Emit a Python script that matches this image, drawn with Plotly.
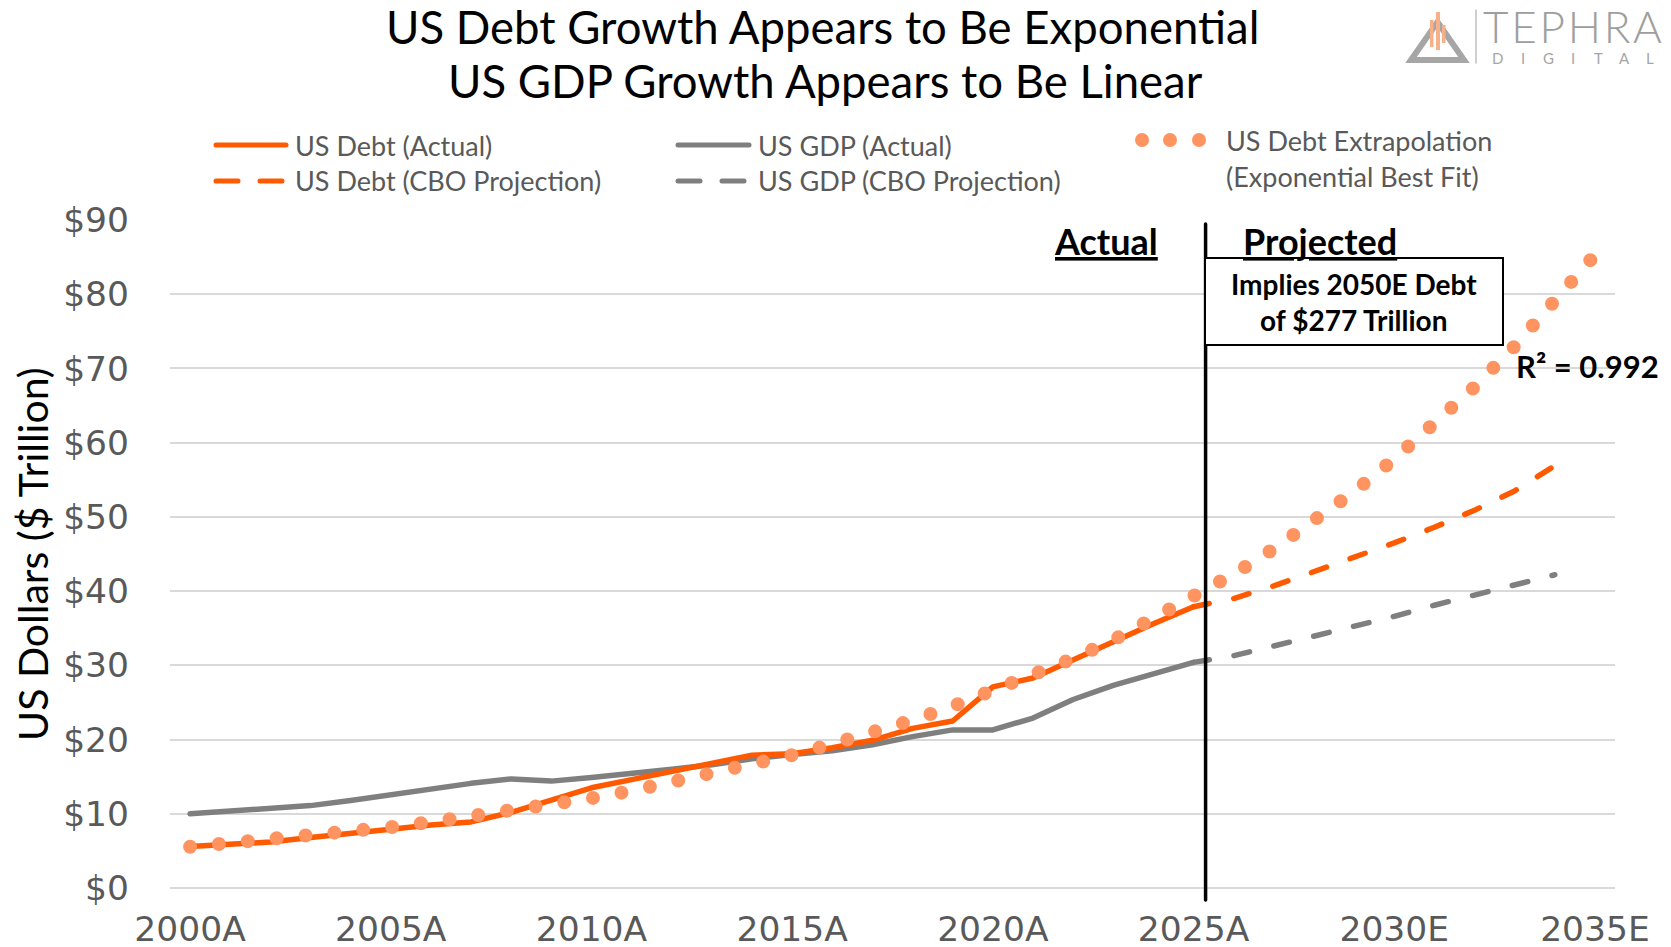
import plotly.graph_objects as go

# ---------------- data ----------------
years_actual = list(range(2000, 2026))
debt_actual = [5.6, 5.85, 6.2, 6.8, 7.3, 7.9, 8.5, 8.9, 10.2, 11.9, 13.5, 14.6, 15.7, 16.7,
               17.9, 18.1, 18.9, 19.9, 21.5, 22.5, 27.1, 28.3, 30.8, 33.2, 35.6, 37.9]
gdp_actual = [10.0, 10.4, 10.7, 11.1, 11.8, 12.6, 13.4, 14.1, 14.7, 14.4, 14.9, 15.4, 16.0,
              16.6, 17.4, 18.0, 18.5, 19.3, 20.4, 21.3, 21.3, 22.9, 25.4, 27.3, 28.9, 30.4]

years_proj = list(range(2025, 2035))
debt_cbo = [37.9, 39.0, 40.7, 42.6, 44.5, 46.5, 48.6, 50.9, 53.5, 56.9]
gdp_cbo = [30.4, 31.3, 32.6, 33.9, 35.3, 36.6, 38.1, 39.5, 40.9, 42.2]

years_fit = list(range(2000, 2036))
debt_fit = [5.55, 6.0, 6.5, 7.0, 7.6, 8.2, 8.9, 9.6, 10.4, 11.2, 12.1, 13.1, 14.2, 15.3,
            16.6, 17.9, 19.4, 20.9, 22.6, 24.5, 26.5, 28.6, 30.9, 33.4, 36.2, 39.1, 42.3,
            45.7, 49.4, 53.4, 57.8, 62.5, 67.5, 73.0, 78.9, 85.3]

tick_years = [2000, 2005, 2010, 2015, 2020, 2025, 2030, 2035]
tick_labels = ["2000A", "2005A", "2010A", "2015A", "2020A", "2025A", "2030E", "2035E"]
divider_year = 2025.3

# ---------------- styles ----------------
W, H = 1671, 947
ML, MR, MT, MB = 170, 56, 220, 59
PW, PH = W - ML - MR, H - MT - MB
X_RANGE = [1999.5, 2035.5]

ORANGE = "#FF5A00"
DOT = "#FF9460"
GRAY = "#7F7F7F"
TXT = "#595959"
TEXT_FONT = "Lato"
TICK_FONT = "DejaVu Sans"


def px(x):
    return (x - ML) / PW


def py(y):
    return (H - MB - y) / PH


fig = go.Figure()
fig.add_trace(go.Scatter(x=years_actual, y=gdp_actual, mode="lines",
                         line=dict(color=GRAY, width=5.5), name="US GDP (Actual)"))
fig.add_trace(go.Scatter(x=years_proj, y=gdp_cbo, mode="lines",
                         line=dict(color=GRAY, width=5.5, dash="16px,25px"),
                         name="US GDP (CBO Projection)"))
fig.add_trace(go.Scatter(x=years_actual, y=debt_actual, mode="lines",
                         line=dict(color=ORANGE, width=5.5), name="US Debt (Actual)"))
fig.add_trace(go.Scatter(x=years_proj, y=debt_cbo, mode="lines",
                         line=dict(color=ORANGE, width=5.5, dash="16px,25px"),
                         name="US Debt (CBO Projection)"))
fig.add_trace(go.Scatter(x=years_fit, y=debt_fit, mode="lines",
                         line=dict(color=DOT, width=14, dash="0px,29px"),
                         name="US Debt Extrapolation (Exponential Best Fit)"))

shapes = []
annotations = []

# divider line (paper coords so it can run slightly below the plot area)
div_paper_x = (divider_year - X_RANGE[0]) / (X_RANGE[1] - X_RANGE[0])
shapes.append(dict(type="line", xref="paper", yref="paper", x0=div_paper_x, x1=div_paper_x,
                   y0=py(900), y1=py(224), line=dict(color="black", width=3.5), layer="above"))
# implied debt box
shapes.append(dict(type="rect", xref="paper", yref="paper", x0=px(1205), x1=px(1503),
                   y0=py(345), y1=py(258), line=dict(color="black", width=2),
                   fillcolor="white", layer="above"))
annotations.append(dict(xref="paper", yref="paper", x=px(1354), y=py(302),
                        text="<b>Implies 2050E Debt<br>of $277 Trillion</b>", showarrow=False,
                        font=dict(family=TEXT_FONT, size=28, color="black"),
                        align="center", xanchor="center", yanchor="middle"))
annotations.append(dict(xref="paper", yref="paper", x=px(1514), y=py(366),
                        text="<b>R² = 0.992</b>", showarrow=False,
                        font=dict(family=TEXT_FONT, size=31, color="black"),
                        xanchor="left", yanchor="middle"))
annotations.append(dict(xref="paper", yref="paper", x=px(1106), y=py(241),
                        text="<b><u>Actual</u></b>", showarrow=False,
                        font=dict(family=TEXT_FONT, size=36, color="black"),
                        xanchor="center", yanchor="middle"))
annotations.append(dict(xref="paper", yref="paper", x=px(1320), y=py(241),
                        text="<b><u>Projected</u></b>", showarrow=False,
                        font=dict(family=TEXT_FONT, size=36, color="black"),
                        xanchor="center", yanchor="middle"))

# titles
annotations.append(dict(xref="paper", yref="paper", x=px(822), y=py(26),
                        text="US Debt Growth Appears to Be Exponential", showarrow=False,
                        font=dict(family=TEXT_FONT, size=45.5, color="black"),
                        xanchor="center", yanchor="middle"))
annotations.append(dict(xref="paper", yref="paper", x=px(825), y=py(80),
                        text="US GDP Growth Appears to Be Linear", showarrow=False,
                        font=dict(family=TEXT_FONT, size=45.5, color="black"),
                        xanchor="center", yanchor="middle"))
# y title
annotations.append(dict(xref="paper", yref="paper", x=px(32), y=py(554),
                        text="US Dollars ($ Trillion)", showarrow=False, textangle=-90,
                        font=dict(family=TEXT_FONT, size=41, color="black"),
                        xanchor="center", yanchor="middle"))

# manual legend
LEG = dict(family=TEXT_FONT, size=27, color=TXT)
for (x0, x1, tx, y, color, dash, label) in [
    (216, 286, 293, 145, ORANGE, "solid", "US Debt (Actual)"),
    (216, 282, 293, 181, ORANGE, "22px,22px", "US Debt (CBO Projection)"),
    (678, 749, 756, 145, GRAY, "solid", "US GDP (Actual)"),
    (678, 745, 756, 181, GRAY, "22px,22px", "US GDP (CBO Projection)"),
]:
    shapes.append(dict(type="line", xref="paper", yref="paper", x0=px(x0), x1=px(x1),
                       y0=py(y), y1=py(y), line=dict(color=color, width=5, dash=dash)))
    annotations.append(dict(xref="paper", yref="paper", x=px(tx), y=py(y), text=label,
                            showarrow=False, font=LEG, xanchor="left", yanchor="middle"))
for cx in (1142, 1170, 1199):
    shapes.append(dict(type="circle", xref="paper", yref="paper", x0=px(cx - 7), x1=px(cx + 7),
                       y0=py(147), y1=py(133), fillcolor=DOT, line=dict(width=0)))
annotations.append(dict(xref="paper", yref="paper", x=px(1224), y=py(141),
                        text="US Debt Extrapolation", showarrow=False, font=LEG,
                        xanchor="left", yanchor="middle"))
annotations.append(dict(xref="paper", yref="paper", x=px(1224), y=py(176),
                        text="(Exponential Best Fit)", showarrow=False, font=LEG,
                        xanchor="left", yanchor="middle"))

# logo
LOGO_GRAY = "#A6A6A6"
shapes.append(dict(type="path", xref="paper", yref="paper",
                   path=f"M {px(1411)},{py(60)} L {px(1464)},{py(60)} L {px(1437.5)},{py(22)} Z",
                   line=dict(color=LOGO_GRAY, width=6), fillcolor="rgba(0,0,0,0)"))
for (bx0, bx1, by0, by1) in [(1430, 1433.5, 20, 47), (1436, 1440, 12, 50), (1442, 1445.5, 25, 43)]:
    shapes.append(dict(type="rect", xref="paper", yref="paper", x0=px(bx0), x1=px(bx1),
                       y0=py(by1), y1=py(by0), fillcolor="#F6B08A", line=dict(width=0)))
shapes.append(dict(type="line", xref="paper", yref="paper", x0=px(1476), x1=px(1476),
                   y0=py(63), y1=py(10), line=dict(color="#BFBFBF", width=1.5)))
annotations.append(dict(xref="paper", yref="paper", x=px(1481), y=py(26),
                        text="T\u200aE\u200aP\u200aH\u200aR\u200aA",
                        showarrow=False, font=dict(family=TEXT_FONT, size=44, color="#9E9E9E",
                                                   weight=300),
                        xanchor="left", yanchor="middle"))
for lx, letter in zip([1497, 1523, 1548, 1573, 1598, 1624, 1650], "DIGITAL"):
    annotations.append(dict(xref="paper", yref="paper", x=px(lx), y=py(58), text=letter,
                            showarrow=False, font=dict(family=TEXT_FONT, size=15, color="#A6A6A6"),
                            xanchor="center", yanchor="middle"))

fig.update_layout(
    width=W, height=H,
    margin=dict(l=ML, r=MR, t=MT, b=MB),
    paper_bgcolor="white", plot_bgcolor="white",
    showlegend=False,
    shapes=shapes, annotations=annotations,
    xaxis=dict(range=X_RANGE, tickvals=tick_years, ticktext=tick_labels,
               showgrid=False, zeroline=False, showline=False, ticks="", automargin=False,
               tickfont=dict(family=TICK_FONT, size=34.5, color=TXT), ticklabelstandoff=17),
    yaxis=dict(range=[0, 90], dtick=10, tickprefix="$", showgrid=True, gridcolor="#D9D9D9",
               gridwidth=2, zeroline=True, zerolinecolor="#D9D9D9", zerolinewidth=2,
               showline=False, ticks="", automargin=False,
               tickfont=dict(family=TICK_FONT, size=34.5, color=TXT), ticklabelstandoff=40),
)

post = """
document.documentElement.style.margin='0';
document.body.style.margin='0';
document.body.style.overflow='hidden';
var gd = document.getElementById('{plot_id}');
function fixCaps(){
  gd.querySelectorAll('.scatterlayer path.js-line').forEach(function(p){
    p.style.strokeLinecap='round'; p.style.strokeLinejoin='round';});
  gd.querySelectorAll('.shapelayer path').forEach(function(p){
    p.style.strokeLinecap='round';});
}
fixCaps();
gd.on('plotly_afterplot', fixCaps);
"""
fig.write_html("out.html", post_script=post, config={"displayModeBar": False})
